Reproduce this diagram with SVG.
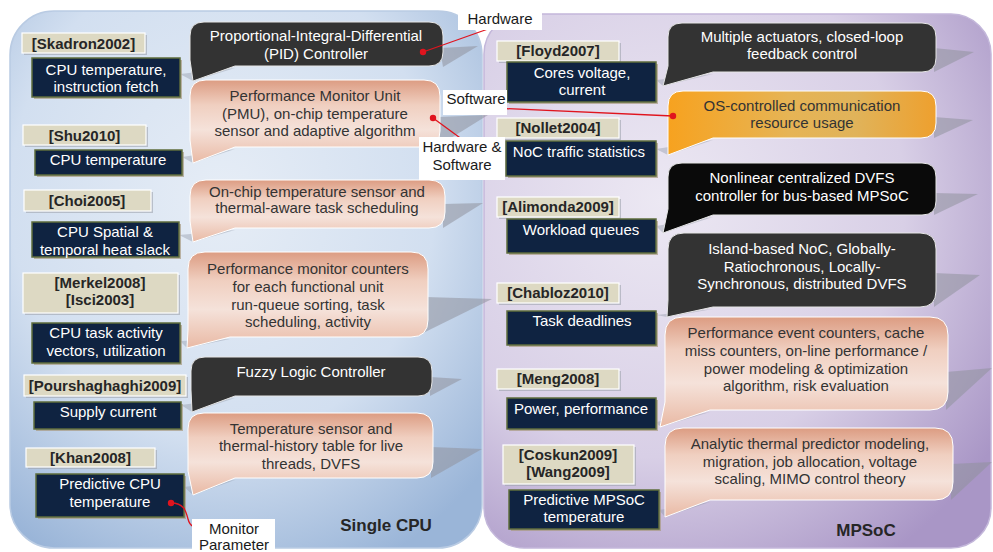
<svg xmlns="http://www.w3.org/2000/svg" width="993" height="552" viewBox="0 0 993 552">
<defs>
<radialGradient id="gBlue" cx="0.45" cy="0.35" r="0.75">
<stop offset="0" stop-color="#e6edf6"/><stop offset="0.6" stop-color="#d2dff0"/><stop offset="1" stop-color="#9ab5d8"/>
</radialGradient>
<radialGradient id="gPurple" cx="0.35" cy="0.35" r="0.8">
<stop offset="0" stop-color="#ece8f3"/><stop offset="0.6" stop-color="#d8cfe6"/><stop offset="1" stop-color="#a996c6"/>
</radialGradient>
<linearGradient id="gSalmon" x1="0" y1="0" x2="0" y2="1">
<stop offset="0" stop-color="#dc9c82"/><stop offset="0.3" stop-color="#f0cfc0"/><stop offset="0.6" stop-color="#f5e2da"/><stop offset="1" stop-color="#e9b9a4"/>
</linearGradient>
<linearGradient id="gOrange" x1="0" y1="0" x2="1" y2="0">
<stop offset="0" stop-color="#f7a21f"/><stop offset="0.45" stop-color="#e6b455"/><stop offset="0.7" stop-color="#e0b35a"/><stop offset="1" stop-color="#eea02e"/>
</linearGradient>
<style>
text{font-family:"Liberation Sans",Arial,sans-serif;font-size:15px;text-anchor:middle}
.w{fill:#ffffff}
.d{fill:#333333}
.b{font-weight:bold;fill:#262626}
.big{font-weight:bold;font-size:17px;fill:#262626}
.tan{fill:#ddd9c3;stroke:#ffffff;stroke-width:1.2}
.tsh{fill:#9ea4ad;opacity:0.6}
.nav{fill:#0f2341;stroke:#5f6d3c;stroke-width:1.5}
.nsh{fill:#a89a80;opacity:0.7}
.shd{fill:#8f929c;opacity:0.55}
.wed{fill:#8f96a4;opacity:0.4}
.dk{fill:#333333;stroke:#e6e6e6;stroke-width:1}
.bk{fill:#0a0a0a;stroke:#e6e6e6;stroke-width:1}
.sal{fill:url(#gSalmon);stroke:#ffffff;stroke-width:1}
.org{fill:url(#gOrange);stroke:#ffffff;stroke-width:1}
.ann{fill:#ffffff}
.red{stroke:#e0141e;stroke-width:1.3;fill:none}
.dot{fill:#e0141e}
</style>
</defs>

<g id="panels">
<rect x="10" y="11" width="472" height="537" rx="44" fill="url(#gBlue)" stroke="#b9cbe3" stroke-width="1.5"/>
<rect x="484" y="14" width="507" height="534" rx="40" fill="url(#gPurple)" stroke="#c3b7da" stroke-width="1.5"/>
<text class="big" x="386" y="531">Single CPU</text>
<text class="big" x="866" y="536">MPSoC</text>
</g>

<g id="shadows">
<polygon class="shd" points="440,48 478,46 443,67"/>
<polygon class="shd" points="438,117 488,115 438,146"/>
<polygon class="shd" points="443,204 483,203 443,228"/>
<polygon class="shd" points="425,297 492,299 415,337"/>
<polygon class="shd" points="430,377 462,379 430,396"/>
<polygon class="shd" points="431,447 482,449 431,478"/>
<polygon class="shd" points="934,48 974,52 934,72"/>
<polygon class="shd" points="934,117 973,120 934,138"/>
<polygon class="shd" points="934,193 978,194 934,215"/>
<polygon class="shd" points="934,273 980,275 934,307"/>
<polygon class="shd" points="946,372 992,368 946,410"/>
<polygon class="shd" points="951,464 992,462 951,500"/>
<polygon class="wed" points="180,74 235,68 193,81"/>
<polygon class="wed" points="182,157 235,149 193,163"/>
<polygon class="wed" points="179,235 235,230 193,242"/>
<polygon class="wed" points="180,341 230,339 187,348"/>
<polygon class="wed" points="181,405 235,398 192,412"/>
<polygon class="wed" points="184,487 235,480 193,495"/>
<polygon class="wed" points="656,80 713,74 663,86"/>
<polygon class="wed" points="656,149 713,140 668,155"/>
<polygon class="wed" points="656,226 713,217 663,233"/>
<polygon class="wed" points="656,315 713,309 667,317"/>
<polygon class="wed" points="656,422 710,412 660,427"/>
<polygon class="wed" points="659,510 710,502 665,517"/>
</g>

<g id="n-pid">
<path class="dk" d="M204,22 H429 Q443,22 443,36 V52 Q443,66 429,66 H235 L193,81 L190,60 V36 Q190,22 204,22 Z"/>
<text class="w" x="316" y="41">Proportional-Integral-Differential</text>
<text class="w" x="316" y="59">(PID) Controller</text>
</g>
<g id="n-pmu">
<path class="sal" d="M206,80 H424 Q440,80 440,96 V131 Q440,147 424,147 H235 L193,163 L190,140 V96 Q190,80 206,80 Z"/>
<text class="d" x="315" y="101">Performance Monitor Unit</text>
<text class="d" x="315" y="119">(PMU), on-chip temperature</text>
<text class="d" x="315" y="136">sensor and adaptive algorithm</text>
</g>
<g id="n-onchip">
<path class="sal" d="M206,180 H429 Q445,180 445,196 V212 Q445,228 429,228 H235 L193,242 L190,221 V196 Q190,180 206,180 Z"/>
<text class="d" x="317" y="197">On-chip temperature sensor and</text>
<text class="d" x="317" y="213">thermal-aware task scheduling</text>
</g>
<g id="n-pmc">
<path class="sal" d="M205,252 H411 Q428,252 428,269 V320 Q428,337 411,337 H230 L187,348 L188,330 V269 Q188,252 205,252 Z"/>
<text class="d" x="308" y="274">Performance monitor counters</text>
<text class="d" x="308" y="292">for each functional unit</text>
<text class="d" x="308" y="310">run-queue sorting, task</text>
<text class="d" x="308" y="327">scheduling, activity</text>
</g>
<g id="n-fuzzy">
<path class="dk" d="M205,357 H418 Q432,357 432,371 V382 Q432,396 418,396 H235 L192,412 L191,390 V371 Q191,357 205,357 Z"/>
<text class="w" x="311" y="377">Fuzzy Logic Controller</text>
</g>
<g id="n-tempsensor">
<path class="sal" d="M204,413 H417 Q433,413 433,429 V462 Q433,478 417,478 H235 L193,495 L188,471 V429 Q188,413 204,413 Z"/>
<text class="d" x="311" y="434">Temperature sensor and</text>
<text class="d" x="311" y="451">thermal-history table for live</text>
<text class="d" x="311" y="469">threads, DVFS</text>
</g>

<g id="n-multi">
<path class="dk" d="M682,23 H922 Q936,23 936,37 V58 Q936,72 922,72 H713 L663,86 L668,66 V37 Q668,23 682,23 Z"/>
<text class="w" x="802" y="42">Multiple actuators, closed-loop</text>
<text class="w" x="802" y="59">feedback control</text>
</g>
<g id="n-os">
<path class="org" d="M683,91 H921 Q936,91 936,106 V123 Q936,138 921,138 H713 L668,155 L668,132 V106 Q668,91 683,91 Z"/>
<text class="d" x="802" y="111">OS-controlled communication</text>
<text class="d" x="802" y="128">resource usage</text>
</g>
<g id="n-nonlinear">
<path class="bk" d="M682,163 H922 Q936,163 936,177 V201 Q936,215 922,215 H713 L663,233 L668,209 V177 Q668,163 682,163 Z"/>
<text class="w" x="802" y="183">Nonlinear centralized DVFS</text>
<text class="w" x="802" y="201">controller for bus-based MPSoC</text>
</g>
<g id="n-island">
<path class="dk" d="M684,233 H920 Q936,233 936,249 V291 Q936,307 920,307 H713 L667,317 L668,300 V249 Q668,233 684,233 Z"/>
<text class="w" x="802" y="254">Island-based NoC, Globally-</text>
<text class="w" x="802" y="272">Ratiochronous, Locally-</text>
<text class="w" x="802" y="289">Synchronous, distributed DVFS</text>
</g>
<g id="n-perfevent">
<path class="sal" d="M683,317 H930 Q948,317 948,335 V392 Q948,410 930,410 H710 L660,427 L665,402 V335 Q665,317 683,317 Z"/>
<text class="d" x="806" y="338">Performance event counters, cache</text>
<text class="d" x="806" y="356">miss counters, on-line performance /</text>
<text class="d" x="806" y="374">power modeling &amp; optimization</text>
<text class="d" x="806" y="391">algorithm, risk evaluation</text>
</g>
<g id="n-analytic">
<path class="sal" d="M683,428 H935 Q953,428 953,446 V482 Q953,500 935,500 H710 L665,517 L665,492 V446 Q665,428 683,428 Z"/>
<text class="d" x="810" y="449">Analytic thermal predictor modeling,</text>
<text class="d" x="810" y="467">migration, job allocation, voltage</text>
<text class="d" x="810" y="484">scaling, MIMO control theory</text>
</g>

<g id="n-skadron">
<rect class="tsh" x="24" y="35" width="123" height="20"/>
<rect class="tan" x="22" y="33" width="123" height="20"/>
<text class="b" x="83.5" y="48.5">[Skadron2002]</text>
</g>
<g id="n-cputemp1">
<rect class="nsh" x="34" y="60" width="148" height="39"/>
<rect class="nav" x="32" y="58" width="148" height="39"/>
<text class="w" x="106" y="75">CPU temperature,</text>
<text class="w" x="106" y="92">instruction fetch</text>
</g>
<g id="n-shu">
<rect class="tsh" x="25" y="127" width="123" height="20"/>
<rect class="tan" x="23" y="125" width="123" height="20"/>
<text class="b" x="84.5" y="140.5">[Shu2010]</text>
</g>
<g id="n-cputemp2">
<rect class="nsh" x="37" y="152" width="147" height="25"/>
<rect class="nav" x="35" y="150" width="147" height="25"/>
<text class="w" x="108" y="165">CPU temperature</text>
</g>
<g id="n-choi">
<rect class="tsh" x="26" y="192" width="127" height="21"/>
<rect class="tan" x="24" y="190" width="127" height="21"/>
<text class="b" x="87" y="206">[Choi2005]</text>
</g>
<g id="n-spatial">
<rect class="nsh" x="34" y="224" width="147" height="35"/>
<rect class="nav" x="32" y="222" width="147" height="35"/>
<text class="w" x="105" y="237">CPU Spatial &amp;</text>
<text class="w" x="105" y="255">temporal heat slack</text>
</g>
<g id="n-merkel">
<rect class="tsh" x="25" y="275" width="155" height="40"/>
<rect class="tan" x="23" y="273" width="155" height="40"/>
<text class="b" x="100" y="288">[Merkel2008]</text>
<text class="b" x="100" y="305">[Isci2003]</text>
</g>
<g id="n-activity">
<rect class="nsh" x="34" y="325" width="148" height="40"/>
<rect class="nav" x="32" y="323" width="148" height="40"/>
<text class="w" x="106" y="338">CPU task activity</text>
<text class="w" x="106" y="356">vectors, utilization</text>
</g>
<g id="n-pours">
<rect class="tsh" x="26" y="377" width="162" height="21"/>
<rect class="tan" x="24" y="375" width="162" height="21"/>
<text class="b" x="105" y="391">[Pourshaghaghi2009]</text>
</g>
<g id="n-supply">
<rect class="nsh" x="36" y="404" width="147" height="27"/>
<rect class="nav" x="34" y="402" width="147" height="27"/>
<text class="w" x="108" y="417">Supply current</text>
</g>
<g id="n-khan">
<rect class="tsh" x="28" y="450" width="129" height="19"/>
<rect class="tan" x="26" y="448" width="129" height="19"/>
<text class="b" x="90.5" y="463">[Khan2008]</text>
</g>
<g id="n-predcpu">
<rect class="nsh" x="38" y="476" width="148" height="43"/>
<rect class="nav" x="36" y="474" width="148" height="43"/>
<text class="w" x="110" y="489">Predictive CPU</text>
<text class="w" x="110" y="507">temperature</text>
</g>

<g id="n-floyd">
<rect class="tsh" x="499" y="43" width="122" height="20"/>
<rect class="tan" x="497" y="41" width="122" height="20"/>
<text class="b" x="558" y="56">[Floyd2007]</text>
</g>
<g id="n-cores">
<rect class="nsh" x="509" y="64" width="149" height="40"/>
<rect class="nav" x="507" y="62" width="149" height="40"/>
<text class="w" x="582" y="78">Cores voltage,</text>
<text class="w" x="582" y="95">current</text>
</g>
<g id="n-nollet">
<rect class="tsh" x="499" y="120" width="122" height="20"/>
<rect class="tan" x="497" y="118" width="122" height="20"/>
<text class="b" x="558" y="133">[Nollet2004]</text>
</g>
<g id="n-noc">
<rect class="nsh" x="508" y="143" width="150" height="35"/>
<rect class="nav" x="506" y="141" width="150" height="35"/>
<text class="w" x="579" y="157">NoC traffic statistics</text>
</g>
<g id="n-alimonda">
<rect class="tsh" x="499" y="199" width="122" height="20"/>
<rect class="tan" x="497" y="197" width="122" height="20"/>
<text class="b" x="558" y="212">[Alimonda2009]</text>
</g>
<g id="n-workload">
<rect class="nsh" x="509" y="221" width="149" height="34"/>
<rect class="nav" x="507" y="219" width="149" height="34"/>
<text class="w" x="581" y="235">Workload queues</text>
</g>
<g id="n-chabloz">
<rect class="tsh" x="499" y="285" width="122" height="20"/>
<rect class="tan" x="497" y="283" width="122" height="20"/>
<text class="b" x="558" y="298">[Chabloz2010]</text>
</g>
<g id="n-deadlines">
<rect class="nsh" x="509" y="313" width="149" height="34"/>
<rect class="nav" x="507" y="311" width="149" height="34"/>
<text class="w" x="582" y="326">Task deadlines</text>
</g>
<g id="n-meng">
<rect class="tsh" x="499" y="371" width="122" height="20"/>
<rect class="tan" x="497" y="369" width="122" height="20"/>
<text class="b" x="558" y="384">[Meng2008]</text>
</g>
<g id="n-power">
<rect class="nsh" x="509" y="400" width="149" height="31"/>
<rect class="nav" x="507" y="398" width="149" height="31"/>
<text class="w" x="581" y="414">Power, performance</text>
</g>
<g id="n-coskun">
<rect class="tsh" x="505" y="447" width="131" height="39"/>
<rect class="tan" x="503" y="445" width="131" height="39"/>
<text class="b" x="568" y="460">[Coskun2009]</text>
<text class="b" x="568" y="477">[Wang2009]</text>
</g>
<g id="n-predmpsoc">
<rect class="nsh" x="511" y="492" width="150" height="39"/>
<rect class="nav" x="509" y="490" width="150" height="39"/>
<text class="w" x="584" y="505">Predictive MPSoC</text>
<text class="w" x="584" y="522">temperature</text>
</g>

<g id="connectors">
<line class="red" x1="423" y1="52" x2="488" y2="29"/>
<circle class="dot" cx="423" cy="52" r="3.2"/>
<line class="red" x1="492" y1="108" x2="673" y2="116"/>
<circle class="dot" cx="673" cy="116" r="3.2"/>
<line class="red" x1="433" y1="118" x2="463" y2="140"/>
<circle class="dot" cx="433" cy="118" r="3.2"/>
<path class="red" d="M171,503 C184,503 186,511 188,519 C190,527 195,528 203,528"/>
<circle class="dot" cx="171" cy="503" r="3.2"/>
</g>

<g id="n-hw">
<rect class="ann" x="458" y="9" width="84" height="21"/>
<text class="d" x="500" y="24" style="fill:#1a1a1a">Hardware</text>
</g>
<g id="n-sw">
<rect class="ann" x="443" y="90" width="64" height="25"/>
<text class="d" x="476" y="104" style="fill:#1a1a1a">Software</text>
</g>
<g id="n-hwsw">
<rect class="ann" x="419" y="137" width="86" height="43"/>
<text class="d" x="462" y="152" style="fill:#1a1a1a">Hardware &amp;</text>
<text class="d" x="462" y="170" style="fill:#1a1a1a">Software</text>
</g>
<g id="n-monitor">
<rect class="ann" x="192" y="519" width="83" height="33"/>
<text class="d" x="234" y="534" style="fill:#1a1a1a">Monitor</text>
<text class="d" x="234" y="550" style="fill:#1a1a1a">Parameter</text>
</g>
</svg>
